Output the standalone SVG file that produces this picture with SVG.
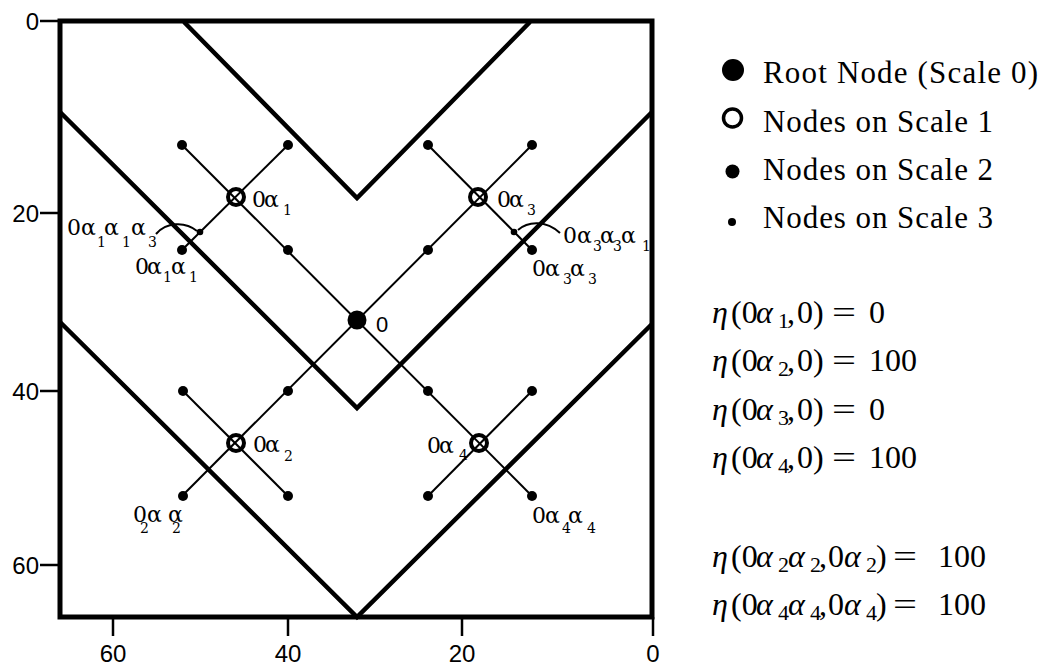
<svg xmlns="http://www.w3.org/2000/svg" width="1044" height="666" viewBox="0 0 1044 666">
<style>
.frame{fill:none;stroke:#000;stroke-width:5}
.thick{fill:none;stroke:#000;stroke-width:4.5;stroke-linejoin:miter}
.thin{stroke:#000;stroke-width:2;fill:none}
.tick{stroke:#000;stroke-width:2.5}
.ax{font-family:"Liberation Sans",Arial,sans-serif;font-size:24px;fill:#000}
.lab{font-family:"DejaVu Serif","Liberation Serif",serif;font-size:22px;fill:#000}
.sub{font-size:14px}
.leg{font-family:"Liberation Serif","Times New Roman",serif;font-size:31px;fill:#000}
.m{font-family:"Liberation Serif","Times New Roman",serif;font-size:32px;fill:#000}
.i{font-style:italic}
.ms{font-size:22px}
.s1{fill:none;stroke:#000;stroke-width:4}
.s2{fill:#000}
</style>
<rect width="1044" height="666" fill="#fff"/>

<g id="axes">
<rect class="frame" x="60" y="21" width="592" height="596"/>
<line class="tick" x1="40" y1="21" x2="60" y2="21"/>
<line class="tick" x1="40" y1="213" x2="60" y2="213"/>
<line class="tick" x1="40" y1="391" x2="60" y2="391"/>
<line class="tick" x1="40" y1="565" x2="60" y2="565"/>
<text class="ax" x="39" y="30" text-anchor="end">0</text>
<text class="ax" x="39" y="222" text-anchor="end">20</text>
<text class="ax" x="39" y="400" text-anchor="end">40</text>
<text class="ax" x="39" y="574" text-anchor="end">60</text>
<line class="tick" x1="113" y1="617" x2="113" y2="636"/>
<line class="tick" x1="288" y1="617" x2="288" y2="636"/>
<line class="tick" x1="462" y1="617" x2="462" y2="636"/>
<line class="tick" x1="653" y1="617" x2="653" y2="636"/>
<text class="ax" x="113" y="662" text-anchor="middle">60</text>
<text class="ax" x="288" y="662" text-anchor="middle">40</text>
<text class="ax" x="462" y="662" text-anchor="middle">20</text>
<text class="ax" x="653" y="662" text-anchor="middle">0</text>
</g>

<g id="boundaries">
<polyline class="thick" points="184,22 357,198 530,22"/>
<polyline class="thick" points="60,112 357,408 652,112"/>
<polyline class="thick" points="60,322 357,617 652,324"/>
</g>

<g id="connectors">
<line class="thin" x1="182" y1="145" x2="532" y2="496"/>
<line class="thin" x1="532" y1="145" x2="182" y2="496"/>
<line class="thin" x1="288" y1="145" x2="182" y2="250"/>
<line class="thin" x1="428" y1="145" x2="532" y2="250"/>
<line class="thin" x1="183" y1="391" x2="288" y2="496"/>
<line class="thin" x1="532" y1="391" x2="428" y2="496"/>
<path class="thin" d="M156,234 C166,222 185,221 197,231" stroke-width="1.8"/>
<path class="thin" d="M518,230 C528,221 546,220 560,233" stroke-width="1.8"/>
</g>

<g id="root">
<circle cx="357" cy="320" r="9.5" fill="#000"/>
<text x="376" y="332" font-family="Liberation Sans, Arial, sans-serif" font-size="22">0</text>
</g>

<g id="scale1">
<g id="n-a1"><circle class="s1" cx="236" cy="197" r="8"/></g>
<g id="n-a3"><circle class="s1" cx="478" cy="197" r="8"/></g>
<g id="n-a2"><circle class="s1" cx="236" cy="443" r="8"/></g>
<g id="n-a4"><circle class="s1" cx="479" cy="443" r="8"/></g>
</g>

<g id="scale2">
<circle class="s2" cx="182" cy="145" r="5"/><circle class="s2" cx="288" cy="145" r="5"/>
<circle class="s2" cx="182" cy="250" r="5"/><circle class="s2" cx="288" cy="250" r="5"/>
<circle class="s2" cx="428" cy="145" r="5"/><circle class="s2" cx="532" cy="145" r="5"/>
<circle class="s2" cx="428" cy="250" r="5"/><circle class="s2" cx="532" cy="250" r="5"/>
<circle class="s2" cx="183" cy="391" r="5"/><circle class="s2" cx="288" cy="391" r="5"/>
<circle class="s2" cx="183" cy="496" r="5"/><circle class="s2" cx="288" cy="496" r="5"/>
<circle class="s2" cx="428" cy="391" r="5"/><circle class="s2" cx="532" cy="391" r="5"/>
<circle class="s2" cx="428" cy="496" r="5"/><circle class="s2" cx="532" cy="496" r="5"/>
</g>

<g id="scale3">
<circle class="s2" cx="200" cy="232" r="3.3"/>
<circle class="s2" cx="514" cy="232" r="3.3"/>
</g>

<g id="labels">
<text class="lab" y="207"><tspan x="252">0</tspan><tspan x="264">α</tspan><tspan class="sub" x="283" y="215">1</tspan></text>
<text class="lab" y="207"><tspan x="497">0</tspan><tspan x="509">α</tspan><tspan class="sub" x="527" y="215">3</tspan></text>
<text class="lab" y="452"><tspan x="253">0</tspan><tspan x="265">α</tspan><tspan class="sub" x="284" y="461">2</tspan></text>
<text class="lab" y="453"><tspan x="427">0</tspan><tspan x="439">α</tspan><tspan class="sub" x="459" y="460">4</tspan></text>
<text class="lab" y="235"><tspan x="67">0</tspan><tspan x="81">α</tspan><tspan class="sub" x="97" y="247">1</tspan><tspan x="104" y="235">α</tspan><tspan class="sub" x="122" y="247">1</tspan><tspan x="131" y="235">α</tspan><tspan class="sub" x="148" y="247">3</tspan></text>
<text class="lab" y="274"><tspan x="135">0</tspan><tspan x="147">α</tspan><tspan class="sub" x="163" y="282">1</tspan><tspan x="171" y="274">α</tspan><tspan class="sub" x="189" y="282">1</tspan></text>
<text class="lab" y="243"><tspan x="563">0</tspan><tspan x="577">α</tspan><tspan class="sub" x="593" y="251">3</tspan><tspan x="600" y="243">α</tspan><tspan class="sub" x="613" y="251">3</tspan><tspan x="621" y="243">α</tspan><tspan class="sub" x="642" y="251">1</tspan></text>
<text class="lab" y="276"><tspan x="532">0</tspan><tspan x="545">α</tspan><tspan class="sub" x="563" y="284">3</tspan><tspan x="570" y="276">α</tspan><tspan class="sub" x="588" y="284">3</tspan></text>
<text class="lab" y="522"><tspan x="133">0</tspan><tspan x="147">α</tspan><tspan class="sub" x="140" y="533">2</tspan><tspan x="168" y="522">α</tspan><tspan class="sub" x="172" y="533">2</tspan></text>
<text class="lab" y="523"><tspan x="532">0</tspan><tspan x="545">α</tspan><tspan class="sub" x="562" y="533">4</tspan><tspan x="568" y="523">α</tspan><tspan class="sub" x="587" y="533">4</tspan></text>
</g>

<g id="legend">
<circle cx="733" cy="70" r="11" fill="#000"/>
<circle cx="732.5" cy="118" r="9" fill="none" stroke="#000" stroke-width="3.5"/>
<circle cx="732.5" cy="171.5" r="7" fill="#000"/>
<circle cx="732" cy="222" r="4" fill="#000"/>
<text class="leg" x="763" y="83" textLength="275" lengthAdjust="spacing">Root Node (Scale 0)</text>
<text class="leg" x="763" y="132" textLength="230" lengthAdjust="spacing">Nodes on Scale 1</text>
<text class="leg" x="763" y="180" textLength="230" lengthAdjust="spacing">Nodes on Scale 2</text>
<text class="leg" x="763" y="228" textLength="230" lengthAdjust="spacing">Nodes on Scale 3</text>
</g>

<g id="equations">
<text class="m" y="323"><tspan class="i" x="712">η</tspan><tspan x="731">(0</tspan><tspan class="i" x="756">α</tspan><tspan class="ms" x="778" y="328">1</tspan><tspan x="787" y="323">,</tspan><tspan x="797">0)</tspan><tspan x="832" textLength="24" lengthAdjust="spacingAndGlyphs">=</tspan><tspan x="869">0</tspan></text>
<text class="m" y="371"><tspan class="i" x="712">η</tspan><tspan x="731">(0</tspan><tspan class="i" x="756">α</tspan><tspan class="ms" x="778" y="376">2</tspan><tspan x="787" y="371">,</tspan><tspan x="797">0)</tspan><tspan x="832" textLength="24" lengthAdjust="spacingAndGlyphs">=</tspan><tspan x="869">100</tspan></text>
<text class="m" y="420"><tspan class="i" x="712">η</tspan><tspan x="731">(0</tspan><tspan class="i" x="756">α</tspan><tspan class="ms" x="778" y="425">3</tspan><tspan x="787" y="420">,</tspan><tspan x="797">0)</tspan><tspan x="832" textLength="24" lengthAdjust="spacingAndGlyphs">=</tspan><tspan x="869">0</tspan></text>
<text class="m" y="468"><tspan class="i" x="712">η</tspan><tspan x="731">(0</tspan><tspan class="i" x="756">α</tspan><tspan class="ms" x="778" y="473">4</tspan><tspan x="787" y="468">,</tspan><tspan x="797">0)</tspan><tspan x="832" textLength="24" lengthAdjust="spacingAndGlyphs">=</tspan><tspan x="869">100</tspan></text>
<text class="m" y="567"><tspan class="i" x="712">η</tspan><tspan x="731">(0</tspan><tspan class="i" x="756">α</tspan><tspan class="ms" x="778" y="572">2</tspan><tspan class="i" x="788" y="567">α</tspan><tspan class="ms" x="810" y="572">2</tspan><tspan x="819" y="567">,</tspan><tspan x="828">0</tspan><tspan class="i" x="844">α</tspan><tspan class="ms" x="866" y="572">2</tspan><tspan x="876" y="567">)</tspan><tspan x="893" textLength="24" lengthAdjust="spacingAndGlyphs">=</tspan><tspan x="938">100</tspan></text>
<text class="m" y="615"><tspan class="i" x="712">η</tspan><tspan x="731">(0</tspan><tspan class="i" x="756">α</tspan><tspan class="ms" x="778" y="620">4</tspan><tspan class="i" x="788" y="615">α</tspan><tspan class="ms" x="810" y="620">4</tspan><tspan x="819" y="615">,</tspan><tspan x="828">0</tspan><tspan class="i" x="844">α</tspan><tspan class="ms" x="866" y="620">4</tspan><tspan x="876" y="615">)</tspan><tspan x="893" textLength="24" lengthAdjust="spacingAndGlyphs">=</tspan><tspan x="938">100</tspan></text>
</g>
</svg>
